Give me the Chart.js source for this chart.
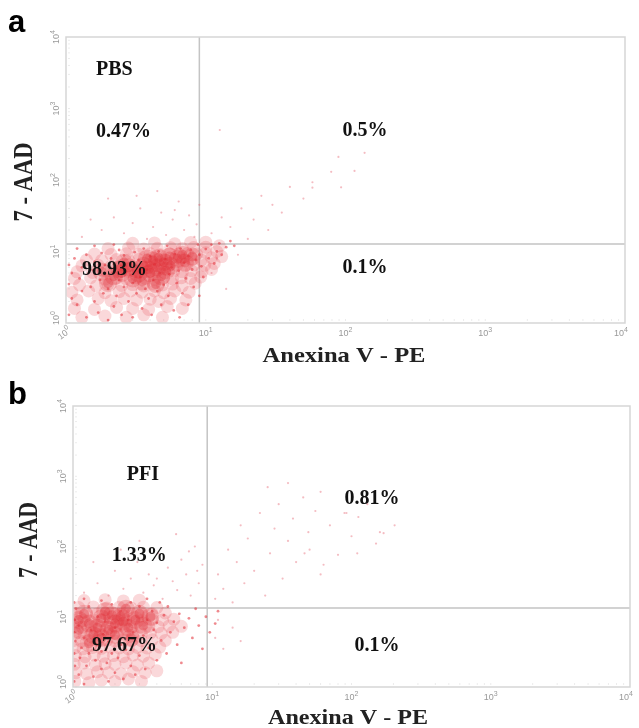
<!DOCTYPE html>
<html><head><meta charset="utf-8">
<script src="https://cdn.jsdelivr.net/npm/chart.js@4"></script>
<style>
body{margin:0;background:#fff;width:639px;height:728px;overflow:hidden;position:relative}
canvas{position:absolute;left:0}
#ca{top:0}#cb{top:364px}
</style></head><body>
<canvas id="ca" width="639" height="364"></canvas>
<canvas id="cb" width="639" height="364"></canvas>
<script>
// ---- axis ticks (log decades) ----
const tickValues = [1, 10, 100, 1000, 10000];
const tickExponents = ['0', '1', '2', '3', '4'];
const xTitle = 'Anexina V - PE';
const yTitle = '7 - AAD';

// ---- Panel a (PBS) ----
const aGate = [9.0, 12.7];            // Annexin V gate, 7-AAD gate
const aLabels = ['PBS', '0.47%', '0.5%', '98.93%', '0.1%'];
const aLabelAt = [[1.64, 3460], [1.64, 468], [95, 485], [1.3, 5.5], [95, 5.9]];
const aCore = [[2.5,5.0],[3.2,5.6],[3.6,6.3],[4.0,5.0],[4.5,6.0],[5.0,7.1],[5.6,6.3],[3.0,4.2],[2.2,4.5],[2.8,6.0],[4.2,7.5],[6.3,7.9],[7.1,7.0],[3.5,3.8],[4.8,4.5],[2.0,3.6],[5.5,8.5],[3.8,8.0],[2.6,7.0],[6.8,9.0],[8.0,8.5],[4.4,3.5],[1.8,5.2],[3.3,4.9],[3.9,5.6],[5.2,5.4],[2.4,5.6],[4.6,8.2]];
const aMid = [[1.3,1.2],[1.9,1.25],[2.7,1.2],[3.6,1.3],[4.9,1.2],
  [1.15,1.6],[1.6,1.55],[2.3,1.65],[3.0,1.6],[3.9,1.55],[5.3,1.7],[6.8,1.6],
  [1.2,2.1],[1.7,2.2],[2.1,2.05],[2.6,2.2],[3.2,2.1],[4.0,2.15],[4.6,2.0],[5.6,2.2],[7.2,2.1],
  [1.1,2.7],[1.45,2.8],[1.9,2.65],[2.4,2.75],[2.9,2.8],[3.5,2.7],[4.3,2.8],[5.0,2.65],[6.0,2.8],[7.6,2.7],
  [1.25,3.4],[1.65,3.3],[2.0,3.5],[2.5,3.35],[3.0,3.45],[3.6,3.3],[4.2,3.5],[4.9,3.4],[5.8,3.5],[6.8,3.3],[8.4,3.6],
  [1.15,4.2],[1.5,4.3],[1.9,4.1],[2.3,4.25],[2.7,4.15],[3.2,4.3],[3.7,4.2],[4.3,4.1],[5.0,4.3],[5.8,4.15],[6.7,4.3],[7.8,4.2],[9.2,4.4],
  [1.2,5.2],[1.55,5.1],[1.95,5.3],[2.35,5.15],[2.8,5.25],[3.3,5.1],[3.8,5.3],[4.4,5.2],[5.1,5.1],[5.9,5.3],[6.8,5.2],[7.9,5.4],[9.4,5.2],[11,5.6],
  [1.3,6.3],[1.7,6.4],[2.1,6.2],[2.5,6.35],[3.0,6.25],[3.5,6.4],[4.1,6.2],[4.7,6.35],[5.4,6.25],[6.2,6.4],[7.1,6.3],[8.2,6.5],[9.8,6.4],[11.5,6.8],
  [1.4,7.6],[1.8,7.5],[2.3,7.7],[2.8,7.55],[3.3,7.7],[3.9,7.5],[4.5,7.65],[5.2,7.55],[6.0,7.7],[6.9,7.6],[8.0,7.8],[9.3,7.6],[11,8.2],[13,8.5],
  [1.6,9.2],[2.1,9.1],[2.7,9.3],[3.3,9.15],[4.0,9.3],[4.7,9.1],[5.5,9.3],[6.4,9.2],[7.4,9.4],[8.6,9.2],[10,9.6],[12,10],
  [2.0,11],[2.8,11.2],[3.6,10.8],[4.5,11.1],[5.6,11.3],[6.8,11],[8.2,11.4],[10,11.5],[12.5,12],
  [3.0,13],[4.3,13.2],[6.0,12.8],[7.8,13.4],[10,13.5]];
const aBody = [[1.05,1.3],[1.1,2.2],[1.05,3.5],[1.1,5.0],[1.05,6.5],[1.15,8.0],[1.2,1.8],[1.3,2.8],[1.25,4.2],[1.3,6.0],[1.4,9.0],[1.4,1.2],[1.5,3.2],[1.55,5.5],[1.6,7.2],[1.6,2.0],[1.7,1.4],[1.75,4.0],[1.8,9.5],[1.85,2.6],[1.9,6.5],[2.0,1.1],[2.0,3.0],[2.1,8.0],[2.2,1.7],[2.2,5.8],[2.3,2.4],[2.4,10.5],[2.4,4.0],[2.5,1.3],[2.6,3.2],[2.6,8.8],[2.7,5.2],[2.8,2.0],[2.9,6.8],[3.0,1.2],[3.0,3.6],[3.1,9.8],[3.2,2.6],[3.3,7.6],[3.4,4.4],[3.5,1.6],[3.6,11.0],[3.7,3.0],[3.8,5.6],[3.9,2.2],[4.0,8.6],[4.1,1.3],[4.2,4.0],[4.3,6.6],[4.5,2.8],[4.6,10.0],[4.7,5.0],[4.8,1.8],[5.0,3.4],[5.1,7.8],[5.3,12.0],[5.4,2.4],[5.5,4.8],[5.7,6.0],[5.9,1.5],[6.0,9.2],[6.2,3.6],[6.4,5.4],[6.6,11.0],[6.8,2.6],[7.0,7.0],[7.2,4.2],[7.5,8.6],[7.8,10.5],[8.0,5.6],[8.2,3.2],[8.5,7.6],[8.8,12.5],[9.0,9.0],[9.3,6.2],[9.6,4.4],[10,10.8],[10.5,8.0],[11,12.5],[11.5,6.8],[12,10],[12.5,13],[13,9],[14,11.5],[15,14],[16,12],[9.0,2.4],[7.5,1.8],[6.5,1.2],[1.2,11],[1.6,12],[2.2,12.5]];
const aSparse = [[1.3,16],[1.8,20],[2.2,30],[2.6,18],[3.0,25],[3.4,40],[3.8,15],[4.2,22],[4.8,35],[5.2,17],[5.8,28],[6.4,50],[7.0,20],[7.6,32],[8.3,16],[9.0,45],[2.0,55],[4.5,70],[1.5,28],[3.2,60],[6.0,38],[8.6,24],
  [11,18],[13,30],[15,22],[18,40],[22,28],[25,60],[30,45],[35,35],[40,80],[50,55],[58,93],[58,78],[79,130],[93,79],[89,210],[116,134],[137,240],[12.6,500],[20,15],[28,20],
  [11,5],[12,8],[14,3],[17,9]];

// ---- Panel b (PFI) ----
const bGate = [9.2, 13.3];
const bLabels = ['PFI', '1.33%', '0.81%', '97.67%', '0.1%'];
const bLabelAt = [[2.43, 1050], [1.9, 73], [89, 475], [1.37, 3.8], [105, 3.8]];
const bCore = [[1.3,8],[1.6,9.5],[2.0,8.0],[2.2,10],[2.5,7.0],[1.8,6.5],[1.4,5.5],[2.8,9.0],[3.0,11],[1.2,11],[1.7,12],[2.4,13],[1.5,7],[2.0,5.5],[3.2,7.5],[1.1,6.5],[2.6,5.0],[1.9,10.5],[3.6,10],[1.3,4.2],[1.1,9],[2.3,8.5],[1.6,5.0]];
const bMid = [[1.03,1.2],[1.3,1.15],[1.6,1.25],[2.0,1.2],[2.5,1.3],[3.1,1.2],
  [1.05,1.6],[1.25,1.55],[1.5,1.65],[1.8,1.6],[2.2,1.55],[2.7,1.65],[3.3,1.6],[4.0,1.7],
  [1.02,2.1],[1.2,2.2],[1.45,2.05],[1.7,2.15],[2.0,2.1],[2.4,2.2],[2.9,2.05],[3.5,2.2],
  [1.04,2.8],[1.22,2.7],[1.42,2.85],[1.65,2.75],[1.95,2.8],[2.3,2.7],[2.7,2.85],[3.2,2.75],[3.9,2.9],
  [1.03,3.6],[1.18,3.5],[1.38,3.65],[1.6,3.55],[1.85,3.7],[2.15,3.6],[2.5,3.5],[2.9,3.65],[3.4,3.6],[4.2,3.7],
  [1.02,4.6],[1.15,4.5],[1.32,4.7],[1.52,4.55],[1.75,4.65],[2.0,4.5],[2.3,4.7],[2.65,4.6],[3.1,4.55],[3.7,4.7],[4.6,4.6],
  [1.04,5.8],[1.2,5.7],[1.38,5.9],[1.58,5.75],[1.8,5.85],[2.05,5.7],[2.35,5.9],[2.7,5.8],[3.1,5.75],[3.6,5.9],[4.3,5.8],[5.2,6.0],
  [1.02,7.2],[1.17,7.1],[1.35,7.3],[1.55,7.15],[1.78,7.25],[2.03,7.1],[2.3,7.3],[2.65,7.2],[3.05,7.15],[3.5,7.3],[4.1,7.2],[4.9,7.4],[6.0,7.3],
  [1.03,9],[1.2,8.9],[1.4,9.1],[1.62,8.95],[1.85,9.1],[2.1,8.9],[2.4,9.1],[2.75,9.0],[3.15,8.9],[3.7,9.1],[4.4,9.0],[5.3,9.2],
  [1.05,11],[1.25,11.2],[1.48,10.9],[1.72,11.1],[2.0,11],[2.3,11.2],[2.65,10.9],[3.1,11.1],[3.7,11],[4.6,11.3],
  [1.1,13.5],[1.4,13.8],[1.75,13.3],[2.15,13.6],[2.6,13.4],[3.2,13.7],[4.0,13.5],
  [1.2,17],[1.7,17.5],[2.3,16.8],[3.0,17.2]];
const bBody = [[1.02,1.2],[1.03,2.0],[1.02,3.0],[1.04,4.5],[1.02,6],[1.03,9],[1.05,13],[1.02,16],[1.1,1.5],[1.12,2.6],[1.15,3.6],[1.1,7.5],[1.2,1.1],[1.25,2.0],[1.2,5.0],[1.3,3.0],[1.35,6.5],[1.3,14],[1.4,1.4],[1.45,2.4],[1.5,4.0],[1.5,10],[1.6,1.8],[1.6,3.2],[1.65,5.6],[1.7,8.5],[1.75,2.2],[1.8,1.2],[1.8,4.4],[1.9,3.0],[1.9,15],[2.0,1.6],[2.0,7.0],[2.1,2.6],[2.2,4.0],[2.2,12],[2.3,1.3],[2.4,3.4],[2.5,9.0],[2.6,2.0],[2.7,6.0],[2.8,1.5],[2.8,4.6],[3.0,2.8],[3.0,14],[3.2,5.4],[3.3,1.8],[3.4,9],[3.5,3.6],[3.7,12],[3.8,6.5],[4.0,2.4],[4.0,8.2],[4.3,4.6],[4.5,10.5],[4.7,3.0],[4.8,14],[5.0,6.0],[5.3,8.5],[5.6,4.0],[5.8,11],[6.0,2.2],[6.3,7.0],[6.8,9.5],[7.2,5.0],[7.6,13],[8.0,7.5],[8.5,3.5],[9.0,10],[9.6,6],[10.5,8],[11,12],[1.2,18],[1.6,17],[2.6,16],[3.4,18],[4.2,16]];
const bSparse = [[1.2,22],[1.5,30],[1.8,20],[2.0,45],[2.3,25],[2.6,35],[2.9,60],[3.2,22],[3.5,40],[3.8,28],[4.1,80],[4.4,18],[4.8,50],[5.2,32],[5.6,24],[6.0,65],[6.5,40],[7.0,20],[7.5,100],[8.0,30],[8.5,55],[3.0,120],[5.5,150],[2.2,90],[6.8,85],[1.4,60],[4.0,35],[7.8,45],
  [10.5,18],[11,40],[12,25],[13,90],[14,16],[15,60],[16,200],[17,30],[18,130],[20,45],[22,300],[24,20],[26,80],[28,180],[30,400],[32,35],[35,120],[38,250],[40,60],[45,500],[49,160],[50,90],[55,320],[60,40],[63,55],[70,200],[80,76],[89,300],[92,300],[100,140],[110,80],[112,263],[130,400],[150,110],[160,160],[170,155],[204,200],[46,80],[25,700],[35,800],[60,600],
  [10.5,5],[11,9],[12,3.5],[14,7],[16,4.5]];

const toXY = arr => arr.map(p => ({x: p[0], y: p[1]}));

function fitText(ctx, text, cx, cy, font, width, rot) {
  ctx.save();
  ctx.font = font;
  ctx.textAlign = 'center';
  ctx.textBaseline = 'middle';
  ctx.translate(cx, cy);
  if (rot) ctx.rotate(rot);
  const w = ctx.measureText(text).width;
  ctx.scale(width / w, 1);
  ctx.fillText(text, 0, 0);
  ctx.restore();
}

function powLabel(ctx, exp, cx, cy, rot) {
  ctx.save();
  ctx.translate(cx, cy);
  if (rot) ctx.rotate(rot);
  ctx.fillStyle = '#999';
  ctx.textBaseline = 'middle';
  ctx.font = '9px "Liberation Sans", Arial, sans-serif';
  const w1 = ctx.measureText('10').width;
  ctx.font = '7px "Liberation Sans", Arial, sans-serif';
  const w2 = ctx.measureText(exp).width;
  const s = -(w1 + w2) / 2;
  ctx.font = '9px "Liberation Sans", Arial, sans-serif';
  ctx.textAlign = 'left';
  ctx.fillText('10', s, 1);
  ctx.font = '7px "Liberation Sans", Arial, sans-serif';
  ctx.fillText(exp, s + w1, -3);
  ctx.restore();
}

const flowPlugin = {
  id: 'flow',
  beforeDatasetsDraw(chart, args, o) {
    const {ctx, chartArea: a, scales: {x, y}} = chart;
    ctx.save();
    // minor tick marks
    ctx.strokeStyle = '#ececec';
    ctx.lineWidth = 1;
    for (let d = 0; d < 4; d++) {
      for (let m = 1; m < 10; m++) {
        const v = tickValues[d] * m;
        const px = x.getPixelForValue(v), py = y.getPixelForValue(v);
        ctx.beginPath();
        ctx.moveTo(px, a.bottom - 2); ctx.lineTo(px, a.bottom - 4);
        ctx.moveTo(a.left + 2, py); ctx.lineTo(a.left + 4, py);
        ctx.stroke();
      }
    }
    // gates
    ctx.strokeStyle = '#c4c4c4';
    ctx.lineWidth = 1.5;
    const gx = x.getPixelForValue(o.gate[0]);
    const gy = y.getPixelForValue(o.gate[1]);
    ctx.beginPath();
    ctx.moveTo(gx, a.top); ctx.lineTo(gx, a.bottom);
    ctx.moveTo(a.left, gy); ctx.lineTo(a.right, gy);
    ctx.stroke();
    ctx.restore();
  },
  afterDraw(chart, args, o) {
    const {ctx, chartArea: a, scales: {x, y}} = chart;
    ctx.save();
    // frame
    ctx.strokeStyle = '#d6d6d6';
    ctx.lineWidth = 1.5;
    ctx.strokeRect(a.left, a.top, a.right - a.left, a.bottom - a.top);
    // tick labels
    tickValues.forEach((v, i) => {
      powLabel(ctx, tickExponents[i], a.left - 10, y.getPixelForValue(v) - (i === 0 ? 5 : 0), -Math.PI / 2);
      powLabel(ctx, tickExponents[i], x.getPixelForValue(v) + (i === 0 ? -2 : 0) + (i === 4 ? -4 : 0), a.bottom + 10, i === 0 ? -Math.PI / 5 : 0);
    });
    // quadrant texts
    ctx.fillStyle = '#111';
    ctx.font = 'bold 20px "Liberation Serif", "Times New Roman", serif';
    ctx.textAlign = 'left';
    ctx.textBaseline = 'middle';
    o.labels.forEach((t, i) => {
      const p = o.labelAt[i];
      ctx.fillText(t, x.getPixelForValue(p[0]), y.getPixelForValue(p[1]));
    });
    // axis titles
    ctx.fillStyle = '#222';
    fitText(ctx, xTitle, o.xt[0], o.xt[1], 'bold 22px "Liberation Serif", serif', o.xt[2], 0);
    fitText(ctx, yTitle, o.yt[0], o.yt[1], 'bold 27px "Liberation Serif", serif', o.yt[2], -Math.PI / 2);
    // panel letter
    ctx.fillStyle = '#000';
    ctx.font = 'bold 31px "Liberation Sans", Arial, sans-serif';
    ctx.textAlign = 'left';
    ctx.textBaseline = 'alphabetic';
    ctx.fillText(o.letter, 8, o.letterY);
    ctx.restore();
  }
};

function makeChart(id, core, mid, body, sparse, pad, opts) {
  return new Chart(document.getElementById(id), {
    type: 'scatter',
    data: {
      datasets: [
        {data: toXY(sparse), pointRadius: 1.1, pointBorderWidth: 0, backgroundColor: 'rgba(225,80,95,0.38)'},
        {data: toXY(mid), pointRadius: 6.5, pointBorderWidth: 0, backgroundColor: 'rgba(228,60,70,0.2)'},
        {data: toXY(core), pointRadius: 9, pointBorderWidth: 0, backgroundColor: 'rgba(220,30,35,0.22)'},
        {data: toXY(core), pointRadius: 5, pointBorderWidth: 0, backgroundColor: 'rgba(215,20,30,0.3)'},
        {data: toXY(body), pointRadius: 1.4, pointBorderWidth: 0, backgroundColor: 'rgba(225,40,50,0.55)'}
      ]
    },
    options: {
      responsive: false,
      animation: false,
      devicePixelRatio: 1,
      layout: {padding: pad},
      events: [],
      scales: {
        x: {type: 'logarithmic', min: 1, max: 10000, display: false},
        y: {type: 'logarithmic', min: 1, max: 10000, display: false}
      },
      plugins: {legend: {display: false}, tooltip: {enabled: false}, flow: opts}
    },
    plugins: [flowPlugin]
  });
}

makeChart('ca', aCore, aMid, aBody, aSparse, {left: 66, right: 14, top: 37, bottom: 41},
  {gate: aGate, labels: aLabels, labelAt: aLabelAt, xt: [344, 356, 163], yt: [25, 182, 79], letter: 'a', letterY: 32});
makeChart('cb', bCore, bMid, bBody, bSparse, {left: 73, right: 6, top: 42, bottom: 41},
  {gate: bGate, labels: bLabels, labelAt: bLabelAt, xt: [348, 354, 160], yt: [30, 176, 76], letter: 'b', letterY: 40});
</script>
</body></html>
